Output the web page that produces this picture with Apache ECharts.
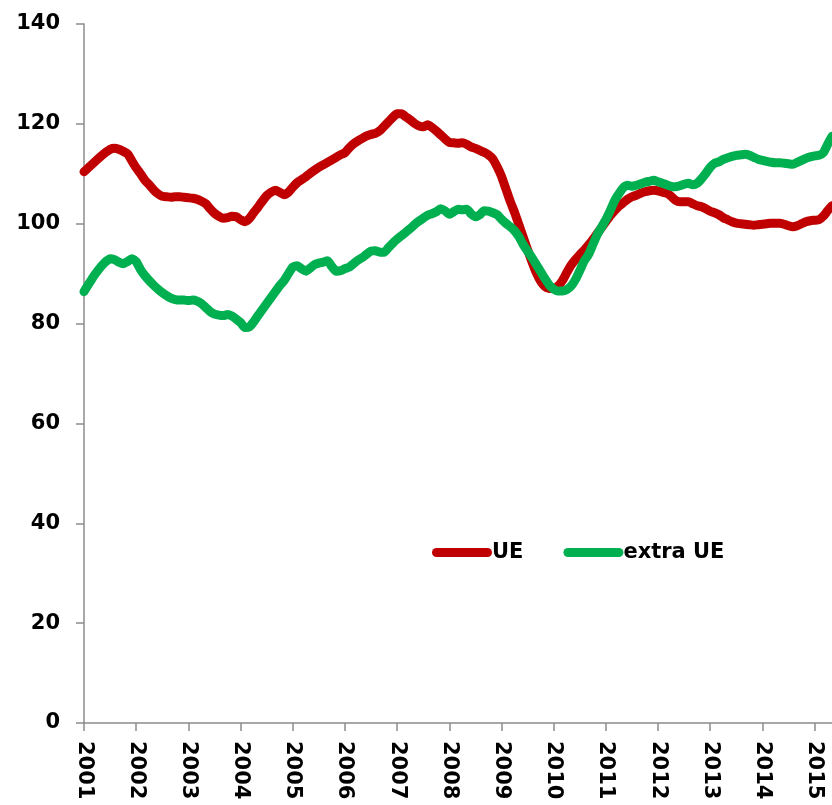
<!DOCTYPE html>
<html>
<head>
<meta charset="utf-8">
<script src="https://cdn.jsdelivr.net/npm/echarts@6/dist/echarts.min.js"></script>
<style>
html,body{margin:0;padding:0;background:#fff;}
#chart{width:832px;height:805px;}
</style>
</head>
<body>
<div id="chart"></div>
<script>
// Years shown as tick labels (one tick per January)
const years = [2001,2002,2003,2004,2005,2006,2007,2008,2009,2010,2011,2012,2013,2014,2015];
const monthsShown = 173; // Jan 2001 .. May 2015

// Monthly index values
const ueValues = [
110.4,111.2,112.0,112.8,113.6,114.3,114.9,115.1,114.9,114.5,114.0,112.6,
111.2,110.0,108.7,107.8,106.8,106.0,105.5,105.4,105.3,105.4,105.4,105.3,
105.2,105.1,104.9,104.5,104.0,103.0,102.1,101.5,101.1,101.2,101.5,101.4,
100.8,100.4,101.0,102.2,103.3,104.5,105.6,106.3,106.7,106.3,105.8,106.3,
107.3,108.2,108.8,109.4,110.1,110.7,111.3,111.8,112.3,112.8,113.3,113.8,
114.2,115.2,116.0,116.6,117.1,117.6,117.9,118.1,118.6,119.5,120.4,121.3,
122.0,122.0,121.4,120.8,120.1,119.6,119.4,119.8,119.3,118.6,117.8,117.0,
116.3,116.2,116.1,116.2,115.9,115.4,115.1,114.7,114.3,113.8,113.0,111.4,
109.5,107.0,104.5,102.3,99.8,97.3,94.8,92.4,90.2,88.5,87.4,87.0,
87.0,87.5,88.6,90.2,91.7,92.8,93.8,94.7,95.7,96.8,98.0,99.2,
100.4,101.6,102.6,103.5,104.2,104.9,105.4,105.7,106.1,106.4,106.6,106.7,
106.6,106.3,106.1,105.5,104.7,104.4,104.4,104.4,104.0,103.6,103.4,103.0,
102.5,102.2,101.8,101.2,100.8,100.4,100.1,100.0,99.9,99.8,99.7,99.8,
99.9,100.0,100.1,100.1,100.1,99.9,99.6,99.4,99.6,100.0,100.4,100.6,
100.7,100.8,101.5,102.6,103.6
];
const extraUeValues = [
86.4,87.8,89.2,90.4,91.5,92.4,93.0,92.8,92.3,92.0,92.4,93.0,
92.4,90.8,89.6,88.6,87.7,86.9,86.2,85.6,85.1,84.8,84.7,84.7,
84.6,84.7,84.5,84.0,83.2,82.4,81.9,81.7,81.6,81.8,81.5,80.9,
80.2,79.2,79.3,80.3,81.6,82.8,84.0,85.2,86.4,87.6,88.6,90.0,
91.3,91.6,91.0,90.5,91.1,91.8,92.1,92.3,92.6,91.4,90.5,90.6,
91.0,91.3,92.0,92.7,93.2,93.9,94.5,94.6,94.3,94.3,95.2,96.1,
96.9,97.6,98.3,99.0,99.8,100.5,101.1,101.7,102.0,102.4,103.0,102.6,
101.9,102.4,102.9,102.8,102.9,102.0,101.4,101.8,102.6,102.5,102.2,101.8,
100.9,100.1,99.4,98.6,97.4,95.8,94.5,93.2,91.8,90.4,89.0,87.7,
86.9,86.5,86.5,86.8,87.5,88.8,90.6,92.5,93.8,95.8,97.8,99.3,
100.8,102.6,104.6,106.0,107.2,107.7,107.5,107.7,108.0,108.3,108.5,108.7,
108.4,108.1,107.8,107.5,107.4,107.6,107.9,108.1,107.8,108.1,109.0,110.1,
111.3,112.1,112.4,112.9,113.2,113.5,113.7,113.8,113.9,113.7,113.3,112.9,
112.7,112.5,112.3,112.2,112.2,112.1,112.0,111.9,112.3,112.7,113.1,113.4,
113.6,113.7,114.2,115.9,117.5
];
const yTicks = [0,20,40,60,80,100,120,140];
const seriesNames = ['UE','extra UE'];

// Build month categories from the year list
const categories = [];
for (const y of years) {
  for (let m = 1; m <= 12; m++) {
    if (categories.length < monthsShown) categories.push(y + '-' + String(m).padStart(2,'0'));
  }
}

const font = '"DejaVu Sans", Verdana, sans-serif';
const chart = echarts.init(document.getElementById('chart'), null, {renderer:'canvas'});
chart.setOption({
  animation: false,
  backgroundColor: '#ffffff',
  grid: { left: 84, top: 24, right: -2, bottom: 82, containLabel: false },
  legend: {
    left: 427, top: 537,
    itemWidth: 60, itemHeight: 9, itemGap: 40,
    icon: 'path://M4.5,0H55.5A4.5,4.5,0,0,1,55.5,9H4.5A4.5,4.5,0,0,1,4.5,0Z',
    textStyle: { fontFamily: font, fontWeight: 'bold', fontSize: 21, color: '#000', padding: [0, 0, 0, -5] },
    data: seriesNames
  },
  xAxis: {
    type: 'category',
    data: categories,
    boundaryGap: false,
    axisLine: { lineStyle: { color: '#8c8c8c', width: 1.5 } },
    axisTick: { show: true, interval: 11, length: 8, lineStyle: { color: '#8c8c8c', width: 1.5 } },
    axisLabel: {
      interval: 11, rotate: -90, margin: 18,
      fontFamily: font, fontWeight: 'bold', fontSize: 21, color: '#000',
      formatter: v => v.slice(0,4)
    },
    splitLine: { show: false }
  },
  yAxis: {
    type: 'value',
    min: yTicks[0], max: yTicks[yTicks.length-1], interval: 20,
    axisLine: { show: true, lineStyle: { color: '#8c8c8c', width: 1.5 } },
    axisTick: { show: true, length: 8, lineStyle: { color: '#8c8c8c', width: 1.5 } },
    axisLabel: { margin: 24, fontFamily: font, fontWeight: 'bold', fontSize: 21, color: '#000' },
    splitLine: { show: false }
  },
  series: [
    {
      name: seriesNames[0], type: 'line', data: ueValues,
      showSymbol: false, symbol: 'none', smooth: 0.2,
      itemStyle: { color: '#C00000' },
      lineStyle: { color: '#C00000', width: 9, cap: 'round', join: 'round' }
    },
    {
      name: seriesNames[1], type: 'line', data: extraUeValues,
      showSymbol: false, symbol: 'none', smooth: 0.2,
      itemStyle: { color: '#00B050' },
      lineStyle: { color: '#00B050', width: 9, cap: 'round', join: 'round' }
    }
  ]
});
</script>
</body>
</html>
